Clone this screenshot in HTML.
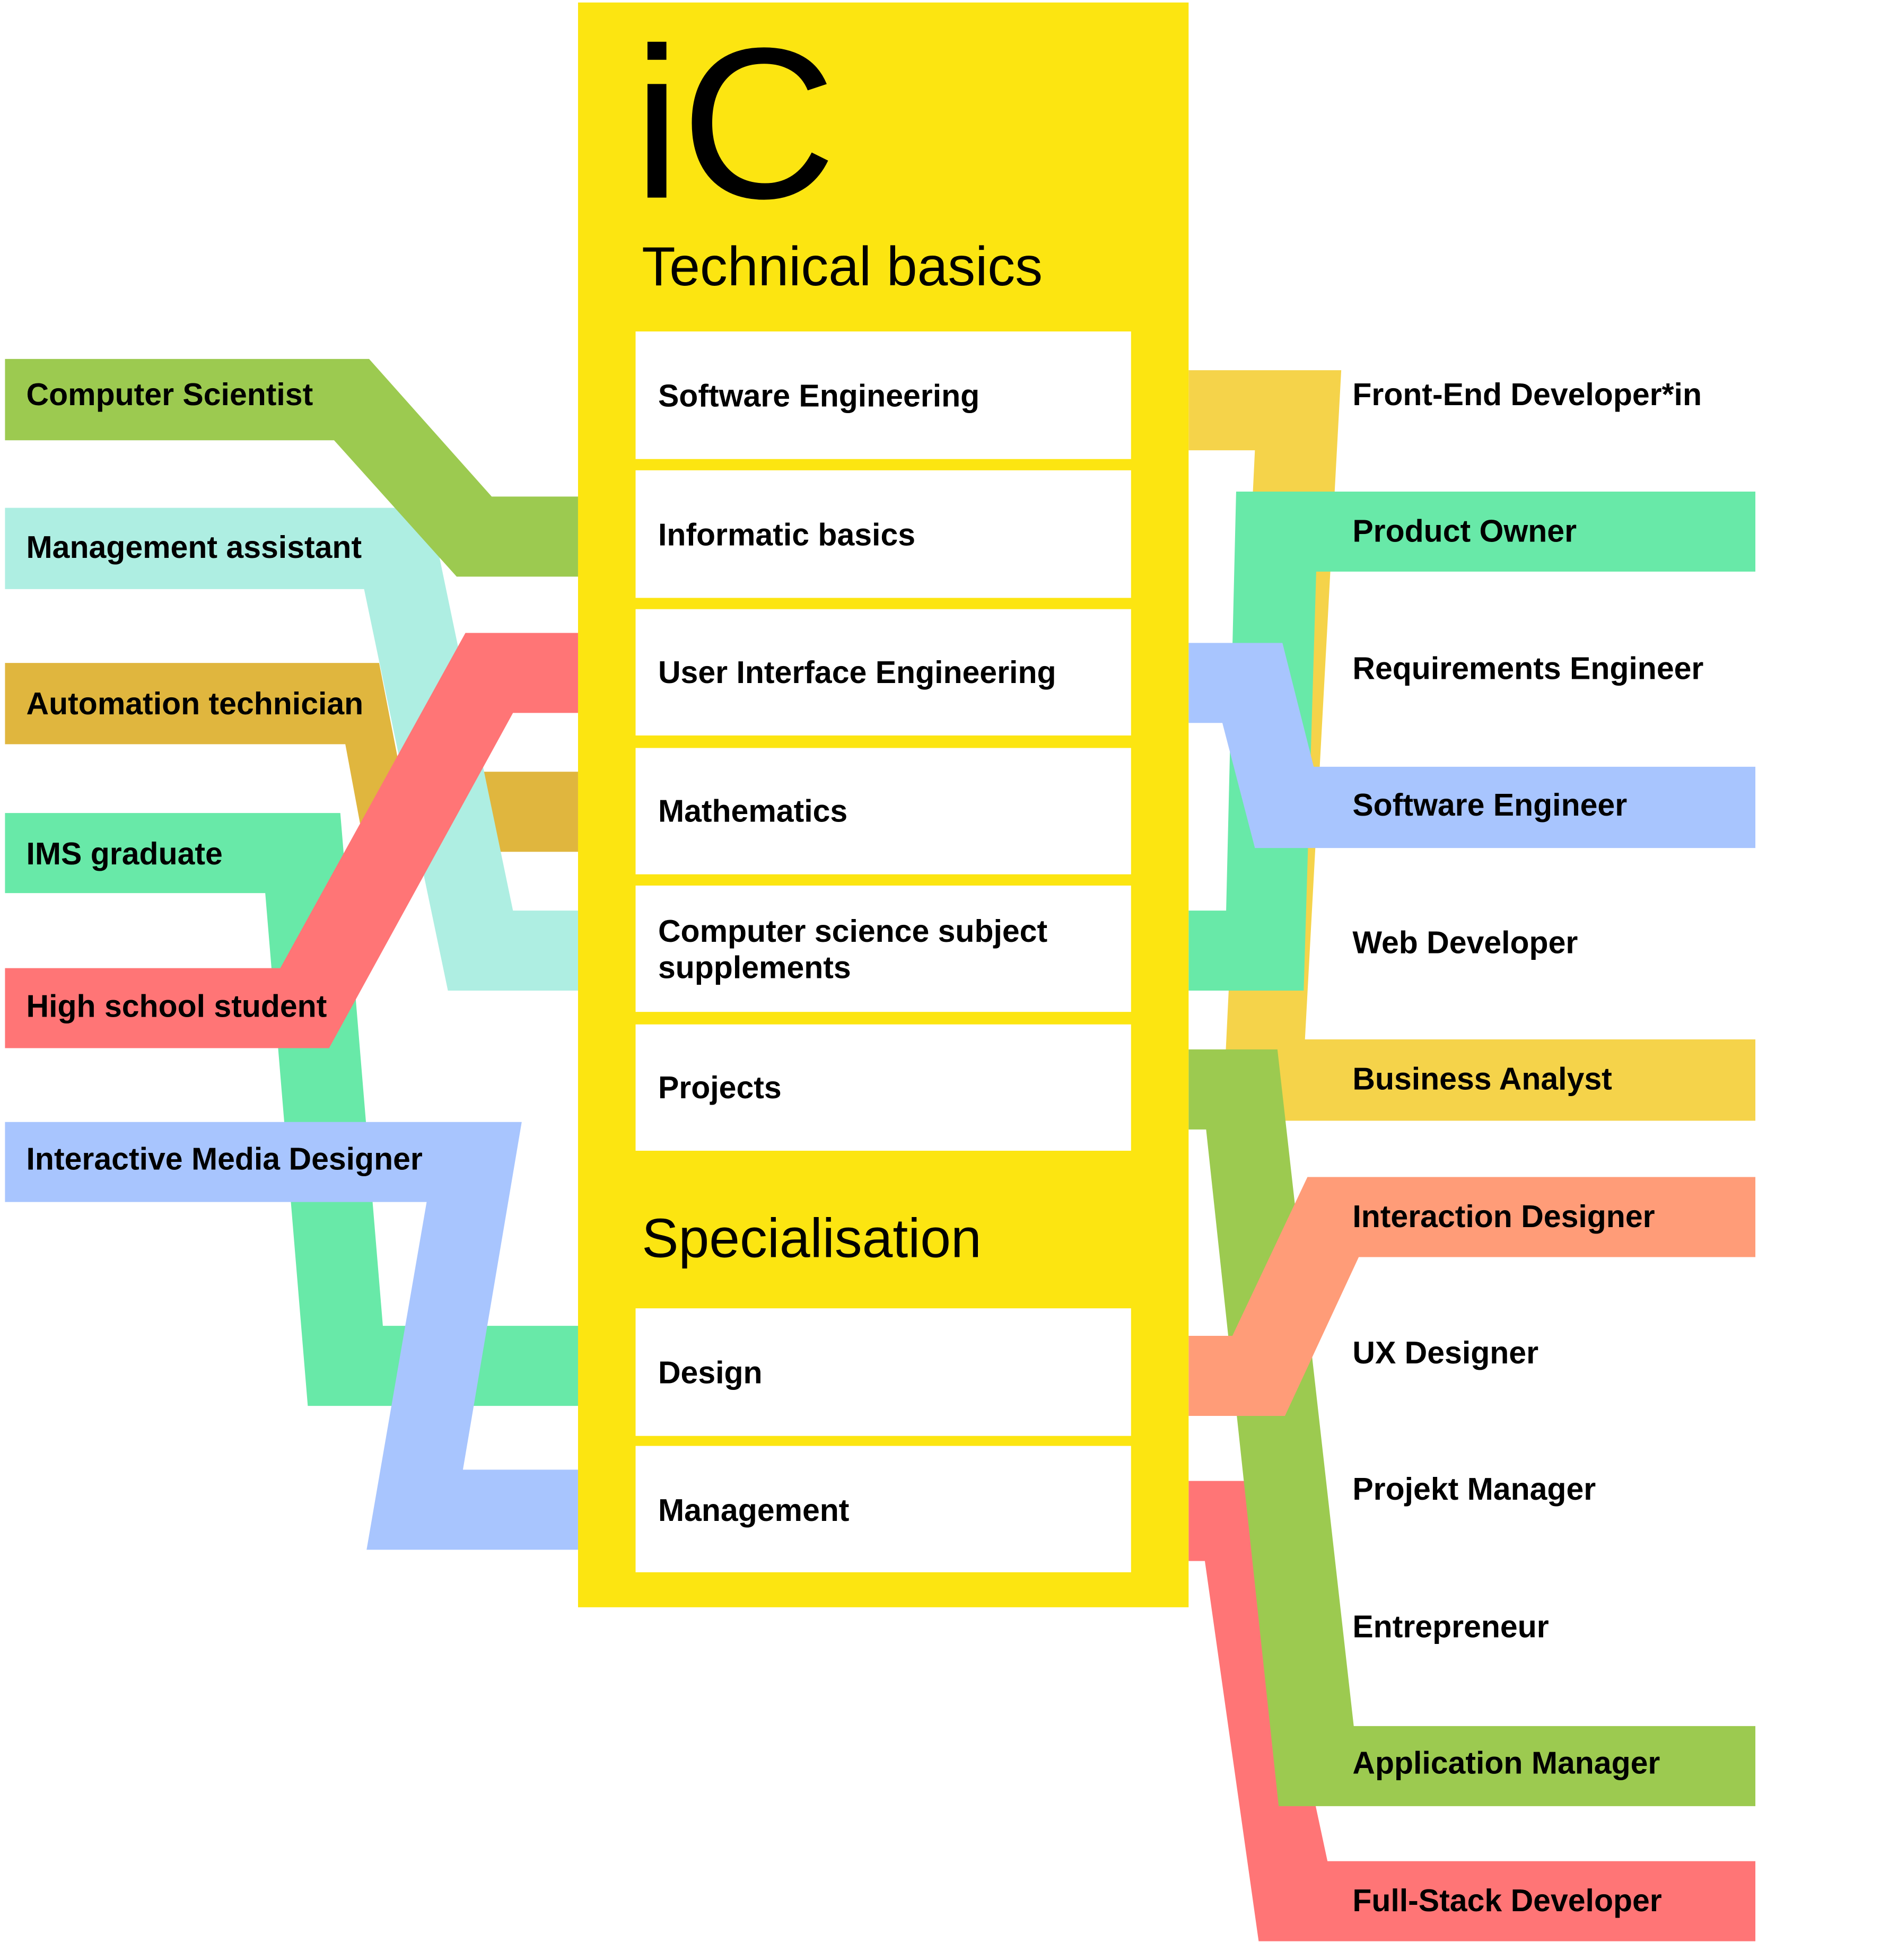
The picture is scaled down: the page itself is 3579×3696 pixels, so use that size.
<!DOCTYPE html>
<html><head><meta charset="utf-8"><style>
html,body{margin:0;padding:0;background:#fff;}
svg{display:block;}
text{font-family:"Liberation Sans",Arial,sans-serif;fill:#000;}
.b{font-weight:bold;font-size:25px;}
</style></head><body>
<svg width="3579" height="3696" viewBox="0 0 1517 1567" preserveAspectRatio="none" xmlns="http://www.w3.org/2000/svg">
<rect width="1530" height="1580" fill="#fff"/>
<polygon fill="#e0b63e" points="4,530 303,530 320,617 462,617 462,681 292,681 276,595 4,595"/>
<polygon fill="#68e9a8" points="4,650 272,650 306,1060 462,1060 462,1124 246,1124 212,714 4,714"/>
<polygon fill="#aeeee2" points="4,406 343,406 410,728 462,728 462,792 358,792 291,471 4,471"/>
<polygon fill="#9cca50" points="4,287 295,287 393,397 462,397 462,461 365,461 267,352 4,352"/>
<polygon fill="#ff7576" points="4,774 224,774 372,506 462,506 462,570 410,570 263,838 4,838"/>
<polygon fill="#a8c5fe" points="4,897 417,897 370,1175 462,1175 462,1239 293,1239 341,961 4,961"/>
<polygon fill="#f5d34a" points="950,296 1072,296 1043,831 1403,831 1403,896 977,896 1003,360 950,360"/>
<polygon fill="#68e9a8" points="988,393 1403,393 1403,457 1052,457 1042,792 950,792 950,728 980,728"/>
<polygon fill="#a8c5fe" points="950,514 1025,514 1050,613 1403,613 1403,678 1003,678 977,578 950,578"/>
<polygon fill="#ff7576" points="950,1184 996,1184 1061,1488 1403,1488 1403,1552 1006,1552 963,1248 950,1248"/>
<polygon fill="#9cca50" points="950,839 1021,839 1082,1380 1403,1380 1403,1444 1022,1444 964,903 950,903"/>
<polygon fill="#ff9c78" points="950,1068 985,1068 1045,941 1403,941 1403,1005 1086,1005 1027,1132 950,1132"/>
<rect x="462" y="2" width="488" height="1283" fill="#fce511"/>
<text x="506" y="158" font-size="172">iC</text>
<text x="513" y="228" font-size="44">Technical basics</text>
<g fill="#fff">
<rect x="508" y="265" width="396" height="102"/>
<rect x="508" y="376" width="396" height="102"/>
<rect x="508" y="487" width="396" height="101"/>
<rect x="508" y="598" width="396" height="101"/>
<rect x="508" y="708" width="396" height="101"/>
<rect x="508" y="819" width="396" height="101"/>
<rect x="508" y="1046" width="396" height="102"/>
<rect x="508" y="1156" width="396" height="101"/>
</g>
<g class="b">
<text x="526" y="325">Software Engineering</text>
<text x="526" y="436">Informatic basics</text>
<text x="526" y="546">User Interface Engineering</text>
<text x="526" y="657">Mathematics</text>
<text x="526" y="753">Computer science subject</text>
<text x="526" y="782">supplements</text>
<text x="526" y="878">Projects</text>
<text x="526" y="1106">Design</text>
<text x="526" y="1216">Management</text>
</g>
<text x="513" y="1005" font-size="44">Specialisation</text>
<g class="b">
<text x="21" y="324">Computer Scientist</text>
<text x="21" y="446">Management assistant</text>
<text x="21" y="571">Automation technician</text>
<text x="21" y="691">IMS graduate</text>
<text x="21" y="813">High school student</text>
<text x="21" y="935">Interactive Media Designer</text>
<text x="1081" y="324">Front-End Developer*in</text>
<text x="1081" y="433">Product Owner</text>
<text x="1081" y="543">Requirements Engineer</text>
<text x="1081" y="652">Software Engineer</text>
<text x="1081" y="762">Web Developer</text>
<text x="1081" y="871">Business Analyst</text>
<text x="1081" y="981">Interaction Designer</text>
<text x="1081" y="1090">UX Designer</text>
<text x="1081" y="1199">Projekt Manager</text>
<text x="1081" y="1309">Entrepreneur</text>
<text x="1081" y="1418">Application Manager</text>
<text x="1081" y="1528">Full-Stack Developer</text>
</g>
</svg>
</body></html>
